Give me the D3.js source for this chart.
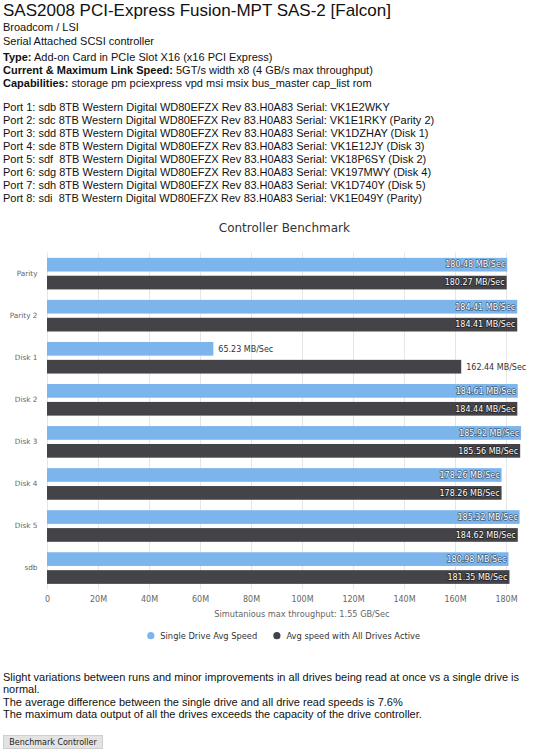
<!DOCTYPE html>
<html>
<head>
<meta charset="utf-8">
<script src="https://cdn.jsdelivr.net/npm/d3@7"></script>
<style>
  body { margin: 0; background: #fff; width: 536px; height: 750px; overflow: hidden; position: relative; }
  .txt { position: absolute; left: 3px; font-family: "Liberation Sans", Arial, sans-serif; color: #111; white-space: pre; }
  #chart { position: absolute; left: 0; top: 0; }
  button {
    position: absolute; left: 3px; top: 735px; width: 100px; height: 14px; padding: 0;
    font-family: "DejaVu Sans", sans-serif; font-size: 8px; color: #222;
    background: #e3e3e3; border: 1px solid #cfcfcf; border-radius: 0;
  }
</style>
</head>
<body>
<div class="txt" style="top:1px;font-size:17px;line-height:20px">SAS2008 PCI-Express Fusion-MPT SAS-2 [Falcon]</div>
<div class="txt" style="top:20px;font-size:11px;line-height:14px">Broadcom / LSI
Serial Attached SCSI controller</div>
<div class="txt" style="top:51px;font-size:11px;line-height:12.8px"><b>Type:</b> Add-on Card in PCIe Slot X16 (x16 PCI Express)
<b>Current &amp; Maximum Link Speed:</b> 5GT/s width x8 (4 GB/s max throughput)
<b>Capabilities:</b> storage pm pciexpress vpd msi msix bus_master cap_list rom</div>
<div class="txt" id="ports" style="top:101px;font-size:11px;line-height:13px"></div>
<svg id="chart" width="536" height="750"></svg>
<div class="txt" style="top:671px;font-size:11px;line-height:12.4px">Slight variations between runs and minor improvements in all drives being read at once vs a single drive is
normal.
The average difference between the single drive and all drive read speeds is 7.6%
The maximum data output of all the drives exceeds the capacity of the drive controller.</div>
<button>Benchmark Controller</button>
<script>
const ports = [
  "Port 1: sdb 8TB Western Digital WD80EFZX Rev 83.H0A83 Serial: VK1E2WKY",
  "Port 2: sdc 8TB Western Digital WD80EFZX Rev 83.H0A83 Serial: VK1E1RKY (Parity 2)",
  "Port 3: sdd 8TB Western Digital WD80EFZX Rev 83.H0A83 Serial: VK1DZHAY (Disk 1)",
  "Port 4: sde 8TB Western Digital WD80EFZX Rev 83.H0A83 Serial: VK1E12JY (Disk 3)",
  "Port 5: sdf  8TB Western Digital WD80EFZX Rev 83.H0A83 Serial: VK18P6SY (Disk 2)",
  "Port 6: sdg 8TB Western Digital WD80EFZX Rev 83.H0A83 Serial: VK197MWY (Disk 4)",
  "Port 7: sdh 8TB Western Digital WD80EFZX Rev 83.H0A83 Serial: VK1D740Y (Disk 5)",
  "Port 8: sdi  8TB Western Digital WD80EFZX Rev 83.H0A83 Serial: VK1E049Y (Parity)"
];
d3.select("#ports").text(ports.join("\n"));

// chart data (MB/Sec)
const drives = ["Parity", "Parity 2", "Disk 1", "Disk 2", "Disk 3", "Disk 4", "Disk 5", "sdb"];
const singleSpeed = [180.48, 184.41, 65.23, 184.61, 185.92, 178.26, 185.32, 180.98];
const allSpeed = [180.27, 184.41, 162.44, 184.44, 185.56, 178.26, 184.62, 181.35];
const seriesNames = ["Single Drive Avg Speed", "Avg speed with All Drives Active"];
const seriesColors = ["#7cb5ec", "#434348"];
const xTicks = [0, 20, 40, 60, 80, 100, 120, 140, 160, 180];

const font = "DejaVu Sans, sans-serif";
const plot = {left: 47, right: 557, top: 252.6, bottom: 589.1};

const svg = d3.select("#chart");

const xScale = d3.scaleLinear()
    .domain([0, 200])
    .range([plot.left, plot.right]);

const yScale = d3.scaleBand()
    .domain(drives)
    .range([plot.top, plot.bottom]);

const band = yScale.bandwidth();
const inner = d3.scaleBand()
    .domain([0, 1])
    .range([band / 2 - 15.8, band / 2 + 15.8])
    .paddingInner(0.235);

// title
svg.append("text")
    .attr("x", 284.4)
    .attr("y", 231.8)
    .attr("text-anchor", "middle")
    .attr("font-family", font)
    .attr("font-size", 12)
    .attr("fill", "#333")
    .text("Controller Benchmark");

// gridlines + x axis
const xAxis = d3.axisBottom(xScale)
    .tickValues(xTicks)
    .tickSize(plot.top - plot.bottom)
    .tickPadding(7)
    .tickFormat(d => d === 0 ? "0" : d + "M");

svg.append("g")
    .attr("class", "x-axis")
    .attr("transform", `translate(0, ${plot.bottom})`)
    .call(xAxis)
    .call(g => g.select(".domain").remove())
    .call(g => g.selectAll("line").attr("stroke", "#e6e6e6"))
    .call(g => g.selectAll("text")
        .attr("font-family", font)
        .attr("font-size", 8)
        .attr("fill", "#666"));

svg.append("text")
    .attr("x", (plot.left + plot.right) / 2)
    .attr("y", 617)
    .attr("text-anchor", "middle")
    .attr("font-family", font)
    .attr("font-size", 8.2)
    .attr("fill", "#666")
    .text("Simutanious max throughput: 1.55 GB/Sec");

// category axis
const yAxis = d3.axisLeft(yScale)
    .tickSize(0)
    .tickPadding(9.5);

svg.append("g")
    .attr("class", "y-axis")
    .attr("transform", `translate(${plot.left}, 0)`)
    .call(yAxis)
    .call(g => g.select(".domain").remove())
    .call(g => g.selectAll("text")
        .attr("font-family", font)
        .attr("font-size", 7.3)
        .attr("fill", "#666"));

// bars
const rows = [];
drives.forEach((d, i) => {
    rows.push({drive: d, s: 0, v: singleSpeed[i]});
    rows.push({drive: d, s: 1, v: allSpeed[i]});
});

const groups = svg.append("g").selectAll("g")
    .data(rows)
    .join("g")
    .attr("transform", d => `translate(0, ${yScale(d.drive) + inner(d.s)})`);

groups.append("rect")
    .attr("x", plot.left)
    .attr("y", 0)
    .attr("width", d => xScale(d.v) - plot.left)
    .attr("height", inner.bandwidth())
    .attr("fill", d => seriesColors[d.s]);

// data labels: outside if they fit in the plot, else inside the bar end
groups.append("text")
    .attr("y", inner.bandwidth() / 2)
    .attr("dy", "0.35em")
    .attr("font-family", font)
    .attr("font-size", 8)
    .text(d => d.v.toFixed(2) + " MB/Sec")
    .each(function(d) {
        const w = this.getComputedTextLength();
        const end = xScale(d.v);
        const t = d3.select(this);
        if (end + 5 + w <= plot.right) {
            t.attr("x", end + 5).attr("fill", "#333");
        } else {
            t.attr("x", end - 2)
                .attr("text-anchor", "end")
                .attr("fill", "#fff")
                .attr("stroke", "rgba(0,0,0,0.5)")
                .attr("stroke-width", 1.4)
                .attr("paint-order", "stroke");
        }
    });

// legend
const legendX = [150.8, 276.9];
const legend = svg.append("g").selectAll("g")
    .data(seriesNames)
    .join("g")
    .attr("transform", (d, i) => `translate(${legendX[i]}, 635.7)`);

legend.append("circle")
    .attr("r", 3.6)
    .attr("fill", (d, i) => seriesColors[i]);

legend.append("text")
    .attr("x", 9.5)
    .attr("dy", "0.35em")
    .attr("font-family", font)
    .attr("font-size", 8.3)
    .attr("fill", "#333")
    .text(d => d);
</script>
</body>
</html>
